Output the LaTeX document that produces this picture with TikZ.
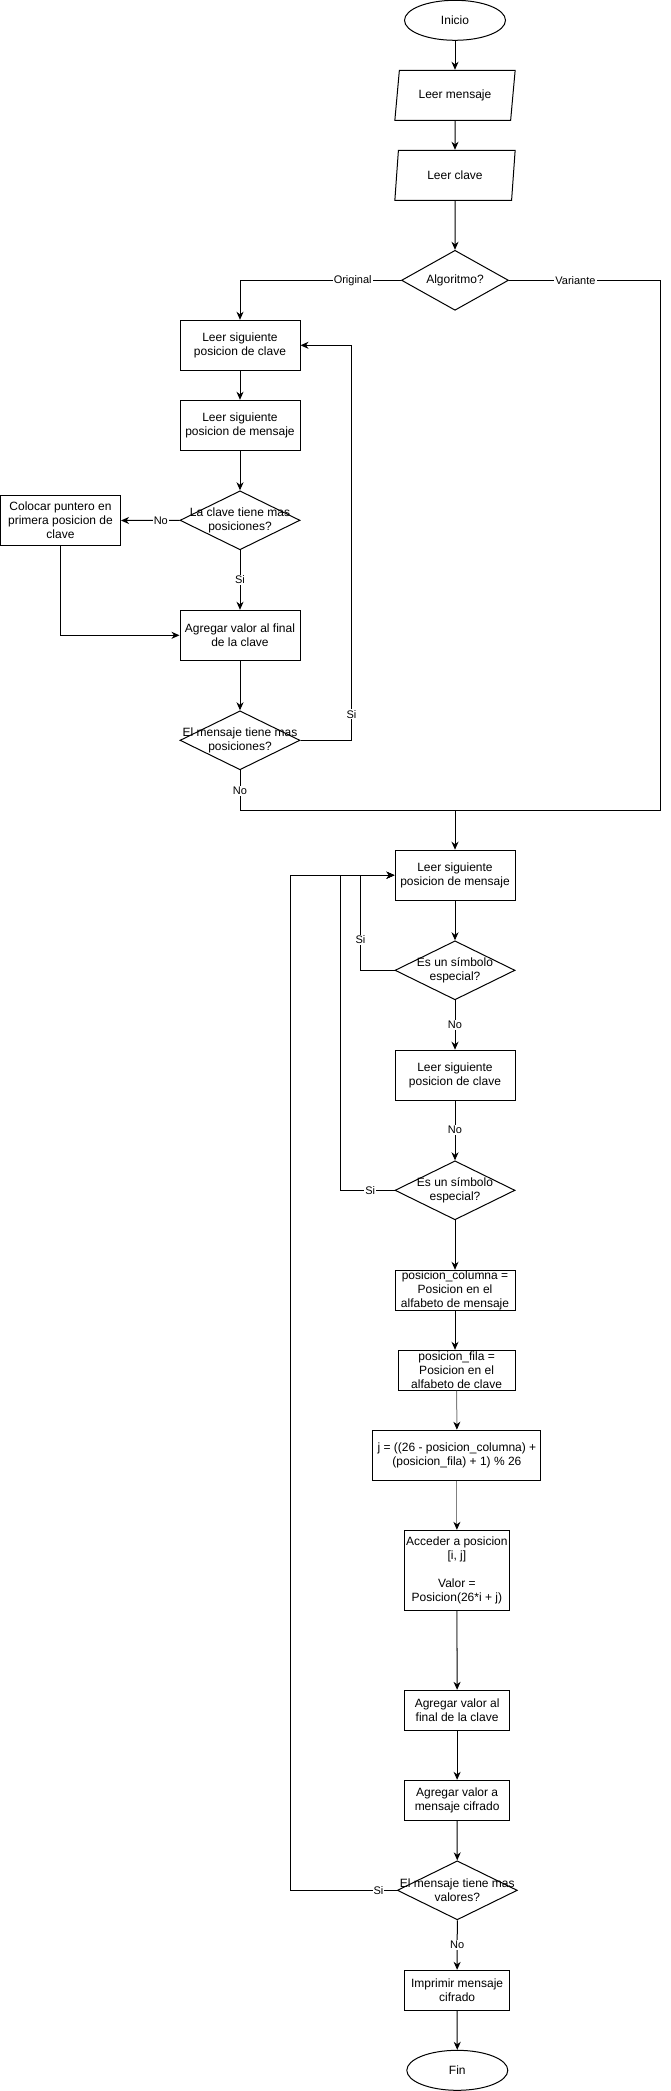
\documentclass[tikz,border=0pt]{standalone}
\usepackage{fontspec}
\setmainfont{Liberation Sans}
\usepackage{xcolor}
\usepackage{tikz}
\usetikzlibrary{shapes,arrows.meta,positioning}

\definecolor{edgegray}{HTML}{808080}

\tikzset{
    txt/.style={font=\fontsize{12}{14}\selectfont},
    proc/.style={draw, line width=1pt, rectangle, align=center, txt, inner xsep=2pt, inner ysep=0pt, minimum width=120, minimum height=50},
    io/.style={draw, line width=1pt, trapezium, trapezium left angle=68, trapezium right angle=112, trapezium stretches body, txt, inner sep=0pt, minimum width=120.3, minimum height=50},
    term/.style={draw, line width=1pt, ellipse, txt, inner sep=0pt, minimum width=101, minimum height=40},
    decision/.style={draw, line width=1pt, diamond, inner sep=0pt, minimum width=120, minimum height=59},
    dtext/.style={align=center, txt},
    conn/.style={line width=1pt},
    flow/.style={conn, -{Stealth[length=8pt, width=7pt, inset=2.5pt]}},
    lbl/.style={fill=white, inner sep=1pt, font=\fontsize{11}{13}\selectfont},
}

\begin{document}
\begin{tikzpicture}[x=1pt, y=-1pt]
    \useasboundingbox (0,0) rectangle (670,2091);

    \node[term] (inicio) at (455,20.3) {Inicio};
    \node[io] (lmsg) at (455,95.3) {Leer mensaje};
    \node[io] (lclave) at (455,175.3) {Leer clave};
    \node[decision, minimum width=107, minimum height=60, label={[dtext]center:Algoritmo?}] (alg) at (455,280.3) {};

    \node[proc] (sigclave) at (240,345.3) {Leer siguiente\\posicion de clave};
    \node[proc] (sigmsg) at (240,425.3) {Leer siguiente\\posicion de mensaje};
    \node[decision, label={[dtext]center:{La clave tiene mas\\posiciones?}}] (clavemas) at (240,520.3) {};
    \node[proc] (puntero) at (60.5,520.5) {Colocar puntero en\\primera posicion de\\clave};
    \node[proc] (agregar) at (240,635.3) {Agregar valor al final\\de la clave};
    \node[decision, label={[dtext]center:{El mensaje tiene mas\\posiciones?}}] (msgmas) at (240,740.3) {};

    \coordinate (join) at (455,810);
    \coordinate (vturn) at (660,810);

    \node[proc] (sigmsg2) at (455,875.2) {Leer siguiente\\posicion de mensaje};
    \node[decision, label={[dtext]center:{Es un símbolo\\especial?}}] (esp1) at (455,970.3) {};
    \node[proc] (sigclave2) at (455,1075.2) {Leer siguiente\\posicion de clave};
    \node[decision, label={[dtext]center:{Es un símbolo\\especial?}}] (esp2) at (455,1190.3) {};
    \node[proc, minimum height=40] (col) at (455,1290.3) {posicion\_columna =\\Posicion en el\\alfabeto de mensaje};
    \node[proc, minimum width=117, minimum height=40] (fila) at (456.6,1370.3) {posicion\_fila =\\Posicion en el\\alfabeto de clave};
    \node[proc, minimum width=168] (jbox) at (456.9,1455.2) {j = ((26 - posicion\_columna) +\\(posicion\_fila) + 1) \% 26};
    \node[proc, minimum width=104.6, minimum height=80] (acceder) at (456.9,1570.3) {Acceder a posicion\\{}[i, j]\\[14pt]Valor =\\Posicion(26*i + j)};
    \node[proc, minimum width=105, minimum height=40] (agregar2) at (457.1,1710.3) {Agregar valor al\\final de la clave};
    \node[proc, minimum width=105, minimum height=40] (agregar3) at (457.1,1800.3) {Agregar valor a\\mensaje cifrado};
    \node[decision, label={[dtext]center:{El mensaje tiene mas\\valores?}}] (valmas) at (457.3,1890.3) {};
    \node[proc, minimum width=105, minimum height=40] (imprimir) at (457.1,1990.3) {Imprimir mensaje\\cifrado};
    \node[term] (fin) at (457.3,2070.3) {Fin};

    \draw[flow] (inicio) -- (lmsg);
    \draw[flow] (lmsg) -- (lclave);
    \draw[flow] (lclave) -- (alg);
    \draw[flow] (alg.west) -| node[lbl, pos=0.15] {Original} (sigclave.north);
    \draw[conn] (alg.east) -| node[lbl, pos=0.22] {Variante} (vturn) -- (join);

    \draw[flow] (sigclave) -- (sigmsg);
    \draw[flow] (sigmsg) -- (clavemas);
    \draw[flow] (clavemas.west) -- node[lbl, pos=0.32] {No} (puntero.east);
    \draw[flow] (clavemas.south) -- node[lbl] {Si} (agregar.north);
    \draw[flow] (puntero.south) |- (agregar.west);
    \draw[flow] (agregar) -- (msgmas);
    \draw[flow] (msgmas.east) -- ++(51,0) |- node[lbl, pos=0.033] {Si} (sigclave.east);
    \draw[flow] (msgmas.south) |- node[lbl, pos=0.26] {No} (join) -- (sigmsg2.north);

    \draw[flow] (sigmsg2) -- (esp1);
    \draw[flow] (esp1.west) -- ++(-34,0) |- node[lbl, pos=0.16] {Si} (sigmsg2.west);
    \draw[flow] (esp1.south) -- node[lbl] {No} (sigclave2.north);
    \draw[flow] (sigclave2.south) -- node[lbl, pos=0.49] {No} (esp2.north);
    \draw[flow] (esp2.west) -- node[lbl, pos=0.45] {Si} ++(-54,0) |- (sigmsg2.west);
    \draw[flow] (esp2.south) -- (col.north);
    \draw[flow] (col.south) -- (col.south |- fila.north);
    \draw[flow, draw=edgegray, -{Stealth[length=8pt, width=7pt, inset=2.5pt, color=black]}] (fila.south) -- (jbox.north);
    \draw[flow, draw=edgegray, -{Stealth[length=8pt, width=7pt, inset=2.5pt, color=black]}] (jbox.south) -- (acceder.north);
    \draw[flow] (acceder.south) -- (agregar2.north);
    \draw[conn, draw=edgegray] (acceder.south) -- ++(0,40);
    \draw[flow] (agregar2) -- (agregar3);
    \draw[flow] (agregar3) -- (valmas);
    \draw[flow] (valmas.west) -- node[lbl, pos=0.173] {Si} ++(-106.3,0) |- (sigmsg2.west);
    \draw[flow] (valmas.south) -- node[lbl] {No} (imprimir.north);
    \draw[flow] (imprimir) -- (fin);
\end{tikzpicture}
\end{document}
